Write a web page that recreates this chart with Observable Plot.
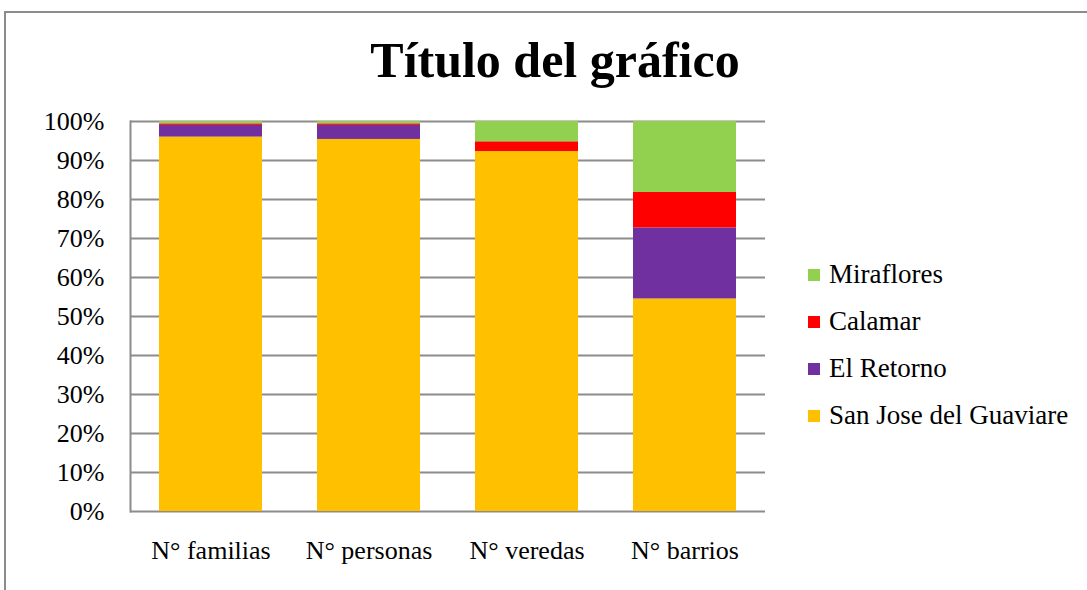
<!DOCTYPE html>
<html>
<head>
<meta charset="utf-8">
<script src="https://cdn.jsdelivr.net/npm/d3@7"></script>
<script src="https://cdn.jsdelivr.net/npm/@observablehq/plot@0.6"></script>
<style>
  html, body { margin: 0; padding: 0; background: #fff; }
  body { width: 1087px; height: 590px; position: relative; overflow: hidden; font-family: "Liberation Serif", serif; }
  #border { position: absolute; left: 4px; top: 11px; width: 1200px; height: 700px; border-top: 2px solid #8c8c8c; border-left: 2px solid #8c8c8c; box-sizing: border-box; }
  #chart { position: absolute; left: 0; top: 0; }
  #title { position: absolute; left: 0; top: 30px; width: 1110px; text-align: center; font-size: 50px; font-weight: bold; color: #000; line-height: 60px; }
  #legend { position: absolute; left: 808px; top: 251px; }
  .row { height: 47px; display: flex; align-items: center; font-size: 27px; color: #000; }
  .sw { width: 12px; height: 12px; margin-right: 9px; }
</style>
</head>
<body>
<div id="border"></div>
<div id="chart"></div>
<div id="title">Título del gráfico</div>
<div id="legend"></div>
<script>
const categories = ["N° familias", "N° personas", "N° veredas", "N° barrios"];
const seriesNames = ["San Jose del Guaviare", "El Retorno", "Calamar", "Miraflores"];
const seriesColors = ["#FFC000", "#7030A0", "#FF0000", "#92D050"];
const sanJose   = [0.960, 0.954, 0.923, 0.545];
const elRetorno = [0.030, 0.036, 0.000, 0.182];
const calamar   = [0.004, 0.004, 0.025, 0.091];
const miraflores= [0.006, 0.006, 0.052, 0.182];
const yTicks = [0, 0.1, 0.2, 0.3, 0.4, 0.5, 0.6, 0.7, 0.8, 0.9, 1.0];

const seriesValues = [sanJose, elRetorno, calamar, miraflores];
const rows = [];
seriesNames.forEach((s, si) => {
  categories.forEach((c, ci) => {
    rows.push({category: c, series: s, order: si, value: seriesValues[si][ci]});
  });
});

const chart = Plot.plot({
  width: 1087,
  height: 590,
  marginLeft: 130,
  marginRight: 322,
  marginTop: 121,
  marginBottom: 79,
  style: {fontFamily: "Liberation Serif, serif", fontSize: "26px", color: "#000", background: "transparent"},
  x: {domain: categories, paddingInner: 0.35, paddingOuter: 0.175, label: null, tickSize: 0, tickPadding: 29},
  y: {domain: [0, 1], ticks: yTicks, tickFormat: d => Math.round(d * 100) + "%", label: null, tickSize: 0, tickPadding: 26},
  color: {domain: seriesNames, range: seriesColors},
  marks: [
    Plot.gridY(yTicks, {stroke: "#8c8c8c", strokeOpacity: 1, strokeWidth: 2}),
    Plot.frame({anchor: "left", stroke: "#8c8c8c", strokeWidth: 2}),
    Plot.barY(rows, Plot.stackY({x: "category", y: "value", fill: "series", order: "order"})),
    Plot.axisX({tickSize: 0, tickPadding: 29, label: null}),
    Plot.axisY({ticks: yTicks, tickSize: 0, tickPadding: 26, tickFormat: d => Math.round(d * 100) + "%", label: null})
  ]
});
document.getElementById("chart").appendChild(chart);

const legend = document.getElementById("legend");
for (let i = seriesNames.length - 1; i >= 0; i--) {
  const row = document.createElement("div");
  row.className = "row";
  const sw = document.createElement("div");
  sw.className = "sw";
  sw.style.background = seriesColors[i];
  const t = document.createElement("span");
  t.textContent = seriesNames[i];
  row.appendChild(sw);
  row.appendChild(t);
  legend.appendChild(row);
}
</script>
</body>
</html>
